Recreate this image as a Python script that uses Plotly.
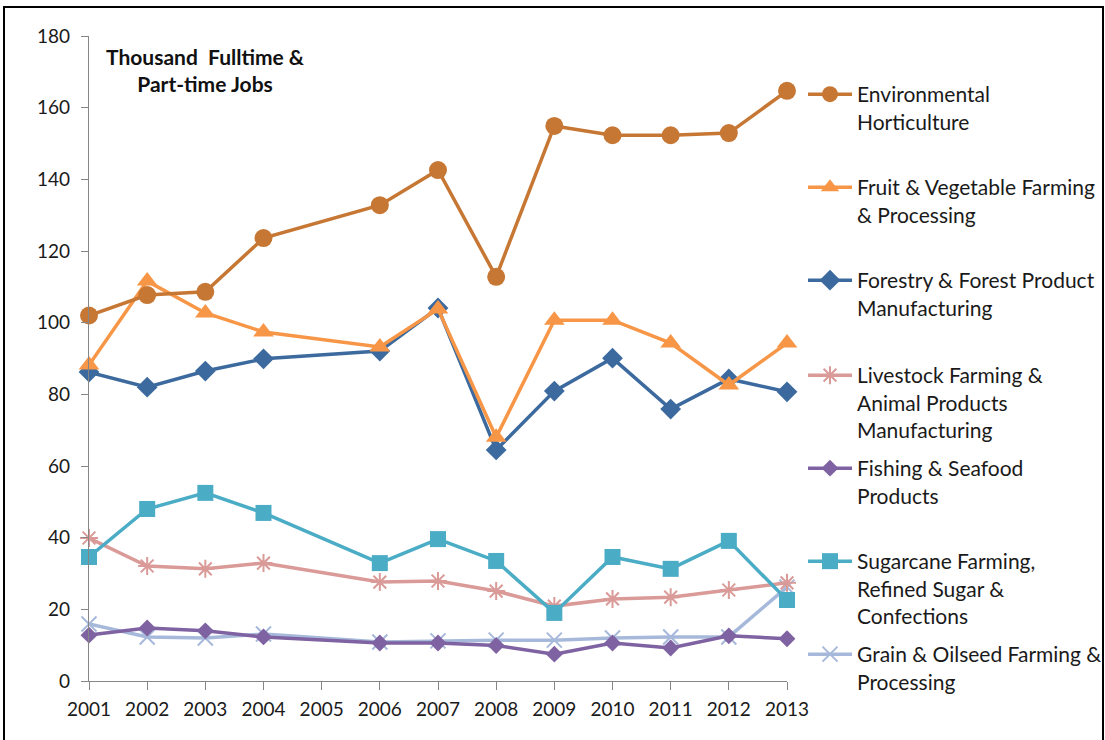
import plotly.graph_objects as go

years = [2001, 2002, 2003, 2004, 2006, 2007, 2008, 2009, 2010, 2011, 2012, 2013]
tick_years = list(range(2001, 2014))
y_ticks = [0, 20, 40, 60, 80, 100, 120, 140, 160, 180]

env_hort = [102, 107.7, 108.6, 123.6, 132.8, 142.6, 112.8, 154.9, 152.3, 152.3, 152.9, 164.7]
fruit_veg = [88.2, 111.6, 102.7, 97.4, 93.2, 103.8, 68, 100.7, 100.7, 94.3, 82.6, 94.3]
forestry = [86.2, 82, 86.5, 89.9, 92.1, 104.1, 64.5, 80.9, 90.1, 75.9, 84.3, 80.7]
livestock = [39.9, 32.1, 31.3, 32.9, 27.6, 27.9, 25.1, 20.9, 22.9, 23.4, 25.4, 27.4]
fishing = [12.8, 14.8, 14.0, 12.3, 10.6, 10.6, 9.9, 7.5, 10.6, 9.2, 12.6, 11.8]
sugarcane = [34.6, 48, 52.5, 46.9, 32.9, 39.6, 33.5, 19, 34.6, 31.3, 39.1, 22.6]
grain = [15.9, 12.3, 12.0, 13.1, 10.9, 11.2, 11.4, 11.4, 12.0, 12.3, 12.3, 26.2]

names = [
    "Environmental<br>Horticulture",
    "Fruit & Vegetable Farming<br>& Processing",
    "Forestry & Forest Product<br>Manufacturing",
    "Livestock Farming &<br>Animal Products<br>Manufacturing",
    "Fishing & Seafood<br>Products",
    "Sugarcane Farming,<br>Refined Sugar &<br>Confections",
    "Grain & Oilseed Farming &<br>Processing",
]

FONT = "Lato"
TXT = "#1a1a1a"

series = [
    (env_hort, "#C77734", "circle", 18, 0),
    (fruit_veg, "#F79646", "triangle-up", 18, 0),
    (forestry, "#3C6A9E", "diamond", 16, 0),
    (livestock, "#D99A98", "asterisk-open", 15, 2),
    (fishing, "#7F62A1", "diamond", 13, 0),
    (sugarcane, "#4BACC6", "square", 16, 0),
    (grain, "#A7B9DB", "x-thin-open", 15, 2),
]

# plot area in pixels
L, R, T, B = 89, 787, 36, 681
W, H = R - L, B - T

legend_top_px = [95, 188, 281, 376, 469, 562, 655]

fig = go.Figure()
draw_order = [6, 4, 3, 5, 2, 1, 0]
for i in draw_order:
    vals, color, sym, size, mlw = series[i]
    lname = "legend" if i == 0 else f"legend{i+1}"
    marker = dict(symbol=sym, size=size, color=color)
    if mlw:
        marker["line"] = dict(color=color, width=mlw)
    fig.add_trace(go.Scatter(
        x=years, y=vals, name=names[i], mode="lines+markers",
        line=dict(color=color, width=3.5), marker=marker,
        cliponaxis=False, legend=lname,
    ))

layout_legends = {}
for i, ypx in enumerate(legend_top_px):
    lname = "legend" if i == 0 else f"legend{i+1}"
    layout_legends[lname] = dict(
        x=(803 - L) / W, xanchor="left",
        y=(B - (ypx - 21)) / H, yanchor="top",
        font=dict(family=FONT, size=21, color=TXT),
        bgcolor="rgba(0,0,0,0)", itemwidth=44,
        valign="top", tracegroupgap=0,
    )

fig.update_layout(
    width=1105, height=740,
    margin=dict(l=L, r=1105 - R, t=T, b=740 - B, autoexpand=False),
    plot_bgcolor="white", paper_bgcolor="white",
    font=dict(family=FONT, size=19, color=TXT),
    showlegend=True,
    **layout_legends,
)

fig.update_xaxes(
    range=[2001, 2013], tickvals=tick_years, ticktext=[str(t) for t in tick_years],
    showline=True, linecolor="#868686", linewidth=1.3,
    ticks="outside", ticklen=8, tickcolor="#868686",
    showgrid=False, zeroline=False, ticklabelstandoff=3,
    tickfont=dict(family=FONT, size=19, color=TXT),
)
fig.update_yaxes(
    range=[0, 180], tickvals=y_ticks,
    showline=True, linecolor="#868686", linewidth=1.3,
    ticks="outside", ticklen=7, tickcolor="#868686",
    showgrid=False, zeroline=False, ticklabelstandoff=7,
    tickfont=dict(family=FONT, size=19, color=TXT),
)

fig.add_annotation(
    text="<b>Thousand  Fulltime &<br>Part-time Jobs</b>",
    xref="paper", yref="paper", x=(205 - L) / W, y=(B - 70) / H,
    xanchor="center", yanchor="middle",
    showarrow=False, align="center",
    font=dict(family=FONT, size=21, color="#111111"),
)

# outer frame of the chart
fig.add_shape(
    type="rect", xref="paper", yref="paper",
    x0=(4 - L) / W, x1=(1103 - L) / W, y0=(B - 760) / H, y1=(B - 7) / H,
    line=dict(color="black", width=2), fillcolor="rgba(0,0,0,0)", layer="below",
)

fig.write_html(
    "out.html",
    config={"displayModeBar": False},
    post_script="document.body.style.margin='0px';",
)
